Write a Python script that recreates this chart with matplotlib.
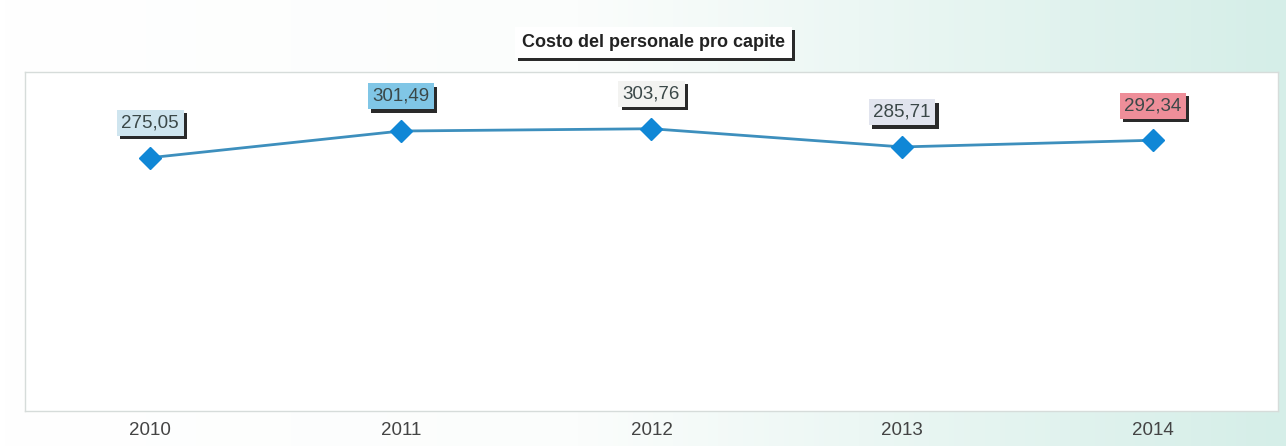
import matplotlib.pyplot as plt
import matplotlib.patheffects as pe
import numpy as np
from matplotlib.colors import LinearSegmentedColormap

# dati
anni = ['2010', '2011', '2012', '2013', '2014']
costo = [275.05, 301.49, 303.76, 285.71, 292.34]
etichette = ['275,05', '301,49', '303,76', '285,71', '292,34']
colori_box = ['#cfe5ef', '#80c6e6', '#f3f3f1', '#e1e4ee', '#ee8e99']

plt.rcParams['font.family'] = ['Liberation Sans', 'DejaVu Sans']

fig = plt.figure(figsize=(12.86, 4.46), dpi=100)

# sfondo sfumato (bianco -> verde acqua)
bg = fig.add_axes([0, 0, 1, 1], zorder=-10)
cmap = LinearSegmentedColormap.from_list('sfondo', [(0, '#ffffff'), (0.45, '#fbfdfc'), (1, '#d5eee8')])
grad = np.linspace(0, 1, 256).reshape(1, -1)
bg.imshow(grad, aspect='auto', cmap=cmap, extent=[0, 1, 0, 1])
bg.axis('off')

ax = fig.add_axes([0.0194, 0.078, 0.9744, 0.7605])
ax.set_facecolor('white')
x = np.arange(len(anni))
ax.plot(x, costo, color='#3d8fbd', lw=2, zorder=2)
ax.plot(x, costo, ls='none', marker='D', ms=11, color='#1087d6', mec='#1087d6', zorder=3)

ax.set_xlim(-0.5, 4.5)
ax.set_ylim(23.6, 360)
ax.set_xticks(x)
ax.set_xticklabels(anni, fontsize=13.5, color='#444444')
ax.tick_params(axis='x', length=0, pad=8)
ax.set_yticks([])
for s in ax.spines.values():
    s.set_color('#d6dcda')
    s.set_linewidth(1)

ombra = [pe.SimplePatchShadow(offset=(2.5, -2.5), shadow_rgbFace='#2a2a2a', alpha=1), pe.Normal()]

# etichette con ombra
for xi, yi, lab, col in zip(x, costo, etichette, colori_box):
    t = ax.annotate(lab, (xi, yi), xytext=(0, 25), textcoords='offset points',
                    ha='center', va='center', fontsize=13.5, color='#3b4848',
                    bbox=dict(boxstyle='square,pad=0.24', fc=col, ec='none'), zorder=5)
    t.get_bbox_patch().set_path_effects(ombra)

# titolo con ombra
tt = fig.text(0.508, 0.905, 'Costo del personale pro capite', ha='center', va='center',
              fontsize=13, fontweight='bold', color='#222222',
              bbox=dict(boxstyle='square,pad=0.38', fc='white', ec='none'))
tt.get_bbox_patch().set_path_effects(ombra)

fig.savefig('out.png', dpi=100)
